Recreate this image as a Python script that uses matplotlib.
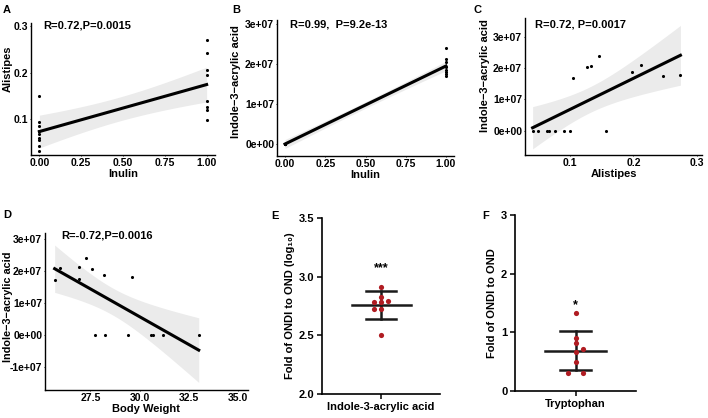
import numpy as np
import matplotlib.pyplot as plt

plt.rcParams['font.family'] = ['Liberation Sans', 'DejaVu Sans']
plt.rcParams['font.weight'] = 'bold'
plt.rcParams['axes.labelweight'] = 'bold'

W, H = 708, 418

# A: Alistipes vs Inulin
inulin_a = [0, 0, 0, 0, 0, 0, 0, 0, 0, 1, 1, 1, 1, 1, 1, 1, 1]
alistipes_a = [0.150, 0.093, 0.085, 0.075, 0.067, 0.060, 0.055, 0.041, 0.032,
               0.270, 0.242, 0.206, 0.194, 0.140, 0.125, 0.119, 0.099]

# B: Indole-3-acrylic acid vs Inulin
inulin_b = [0, 0, 0, 0, 0, 0, 0, 0, 0, 1, 1, 1, 1, 1, 1, 1, 1]
iaa_b = [0, 0, 0, 0, 0, 0, 0, 0, 0,
         2.39e7, 2.12e7, 2.06e7, 1.93e7, 1.85e7, 1.80e7, 1.75e7, 1.70e7]

# C: Indole-3-acrylic acid vs Alistipes
alistipes_c = [0.041, 0.049, 0.063, 0.067, 0.077, 0.091, 0.100, 0.157,
               0.105, 0.126, 0.133, 0.146, 0.198, 0.212, 0.246, 0.274]
iaa_c = [0, 0, 0, 0, 0, 0, 0, 0,
         1.69e7, 2.03e7, 2.08e7, 2.39e7, 1.87e7, 2.11e7, 1.75e7, 1.78e7]

# D: Indole-3-acrylic acid vs Body Weight
weight_d = [25.69, 25.94, 26.91, 26.94, 27.30, 27.58, 27.75, 28.18, 28.23,
            29.41, 29.62, 30.60, 30.68, 31.19, 33.00]
iaa_d = [1.71e7, 2.10e7, 2.14e7, 1.77e7, 2.42e7, 2.07e7, 0, 1.89e7, 0,
         0, 1.81e7, 0, 0, 0, 0]

# E / F: fold of ONDI to OND
fold_iaa = [2.909, 2.827, 2.781, 2.784, 2.789, 2.727, 2.724, 2.50]
fold_trp = [1.324, 0.898, 0.813, 0.710, 0.659, 0.489, 0.312, 0.312]

T_CRIT = 2.13
BAND = '#EBEBEB'
RED = '#B01C22'


def box(l, t, r, b):
    return [l / W, 1 - b / H, (r - l) / W, (b - t) / H]


def style_gg(ax, lab_x, lab_y):
    for s in ['top', 'right']:
        ax.spines[s].set_visible(False)
    for s in ['left', 'bottom']:
        ax.spines[s].set_linewidth(1.0)
    ax.tick_params(length=1, width=0.6, labelsize=7.5, pad=1)
    for lab in ax.get_xticklabels() + ax.get_yticklabels():
        lab.set_fontweight('bold')
    # anchor = right edge of the rotated label
    ax.yaxis.set_label_coords(lab_x, lab_y)


def fit_band(ax, x, y):
    x = np.asarray(x, float)
    y = np.asarray(y, float)
    n = len(x)
    b, a = np.polyfit(x, y, 1)
    xs = np.linspace(x.min(), x.max(), 100)
    yhat = a + b * xs
    s = np.sqrt(np.sum((y - (a + b * x)) ** 2) / (n - 2))
    se = s * np.sqrt(1 / n + (xs - x.mean()) ** 2 / np.sum((x - x.mean()) ** 2))
    ax.fill_between(xs, yhat - T_CRIT * se, yhat + T_CRIT * se, color=BAND, lw=0, zorder=1)
    ax.plot(xs, yhat, color='black', lw=2.2, zorder=3)
    ax.scatter(x, y, s=5, color='black', lw=0, zorder=2)


fig = plt.figure(figsize=(W / 100, H / 100), dpi=100)

# A
ax = fig.add_axes(box(31, 23, 215, 155))
fit_band(ax, inulin_a, alistipes_a)
ax.set_xlim(-0.05, 1.05)
ax.set_ylim(0.0226, 0.307)
ax.set_xticks([0, 0.25, 0.5, 0.75, 1.0])
ax.set_xticklabels(['0.00', '0.25', '0.50', '0.75', '1.00'])
ax.set_yticks([0.1, 0.2, 0.3])
ax.set_xlabel('Inulin', fontsize=8, labelpad=1)
ax.set_ylabel('Alistipes', fontsize=8)
ax.text(0.065, 0.98, 'R=0.72,P=0.0015', transform=ax.transAxes, fontsize=8,
        fontweight='bold', va='center')
style_gg(ax, -0.098, 0.65)

# B
ax = fig.add_axes(box(277, 20, 454, 156))
fit_band(ax, inulin_b, iaa_b)
ax.set_xlim(-0.05, 1.05)
ax.set_ylim(-0.3e7, 3.1e7)
ax.set_xticks([0, 0.25, 0.5, 0.75, 1.0])
ax.set_xticklabels(['0.00', '0.25', '0.50', '0.75', '1.00'])
ax.set_yticks([0, 1e7, 2e7, 3e7])
ax.set_yticklabels(['0e+00', '1e+07', '2e+07', '3e+07'])
ax.set_xlabel('Inulin', fontsize=8, labelpad=1)
ax.set_ylabel('Indole\u22123\u2212acrylic acid', fontsize=8)
ax.text(0.073, 0.97, 'R=0.99,  P=9.2e-13', transform=ax.transAxes, fontsize=8,
        fontweight='bold', va='center')
style_gg(ax, -0.203, 0.544)

# C
ax = fig.add_axes(box(525, 18, 702, 155))
fit_band(ax, alistipes_c, iaa_c)
ax.set_xlim(0.029, 0.308)
ax.set_ylim(-0.776e7, 3.6e7)
ax.set_xticks([0.1, 0.2, 0.3])
ax.set_yticks([0, 1e7, 2e7, 3e7])
ax.set_yticklabels(['0e+00', '1e+07', '2e+07', '3e+07'])
ax.set_xlabel('Alistipes', fontsize=8, labelpad=1)
ax.set_ylabel('Indole\u22123\u2212acrylic acid', fontsize=8)
ax.text(0.056, 0.953, 'R=0.72, P=0.0017', transform=ax.transAxes, fontsize=8,
        fontweight='bold', va='center')
style_gg(ax, -0.198, 0.58)

# D
ax = fig.add_axes(box(45, 233, 248, 390))
fit_band(ax, weight_d, iaa_d)
ax.set_xlim(25.2, 35.5)
ax.set_ylim(-1.73e7, 3.2e7)
ax.set_xticks([27.5, 30.0, 32.5, 35.0])
ax.set_xticklabels(['27.5', '30.0', '32.5', '35.0'])
ax.set_yticks([-1e7, 0, 1e7, 2e7, 3e7])
ax.set_yticklabels(['-1e+07', '0e+00', '1e+07', '2e+07', '3e+07'])
ax.set_xlabel('Body Weight', fontsize=8, labelpad=1)
ax.set_ylabel('Indole\u22123\u2212acrylic acid', fontsize=7.8)
ax.text(0.079, 0.982, 'R=-0.72,P=0.0016', transform=ax.transAxes, fontsize=8,
        fontweight='bold', va='center')
style_gg(ax, -0.16, 0.53)


def dot_panel(ax, vals, offsets, label, ylabel, ylim, yticks, star, star_y):
    vals = np.asarray(vals)
    m = vals.mean()
    sd = vals.std(ddof=1)
    ax.scatter(offsets, vals, s=14, color=RED, lw=0, zorder=3)
    ax.plot([-0.5, 0.5], [m, m], color='#1a1a1a', lw=1.8, zorder=2)
    ax.plot([0, 0], [m - sd, m + sd], color='#1a1a1a', lw=1.8, zorder=2)
    for v in (m - sd, m + sd):
        ax.plot([-0.25, 0.25], [v, v], color='#1a1a1a', lw=1.8, zorder=2)
    ax.text(0, star_y, star, ha='center', va='center', fontsize=9, fontweight='bold')
    ax.set_xlim(-1, 1)
    ax.set_ylim(*ylim)
    ax.set_yticks(yticks)
    ax.set_xticks([0])
    ax.set_xticklabels([label])
    ax.set_ylabel(ylabel, fontsize=8, labelpad=3)
    for s in ['top', 'right']:
        ax.spines[s].set_visible(False)
    for s in ['left', 'bottom']:
        ax.spines[s].set_linewidth(1.2)
    ax.tick_params(length=3.5, width=1.1, labelsize=8, pad=2)
    for lab in ax.get_xticklabels() + ax.get_yticklabels():
        lab.set_fontweight('bold')


# E
ax = fig.add_axes(box(322, 218, 440, 394))
dot_panel(ax, fold_iaa, [0, 0, -0.125, 0, 0.125, -0.125, 0, 0],
          'Indole-3-acrylic acid', 'Fold of ONDI to OND (log\u2081\u2080)',
          (2.0, 3.5), [2.0, 2.5, 3.0, 3.5], '***', 3.07)
ax.set_yticklabels(['2.0', '2.5', '3.0', '3.5'])

# F
ax = fig.add_axes(box(515, 215, 636, 391))
dot_panel(ax, fold_trp, [0, 0, 0, 0.12, 0, 0, -0.12, 0.12],
          'Tryptophan', 'Fold of ONDI to OND',
          (0, 3), [0, 1, 2, 3], '*', 1.46)

# panel letters
for letter, px, py in [('A', 3, 10), ('B', 232, 10), ('C', 474, 10),
                       ('D', 3, 215), ('E', 271, 216), ('F', 482, 216)]:
    fig.text(px / W, 1 - py / H, letter, fontsize=8, fontweight='bold', va='center')

fig.savefig('out.png', dpi=100)
